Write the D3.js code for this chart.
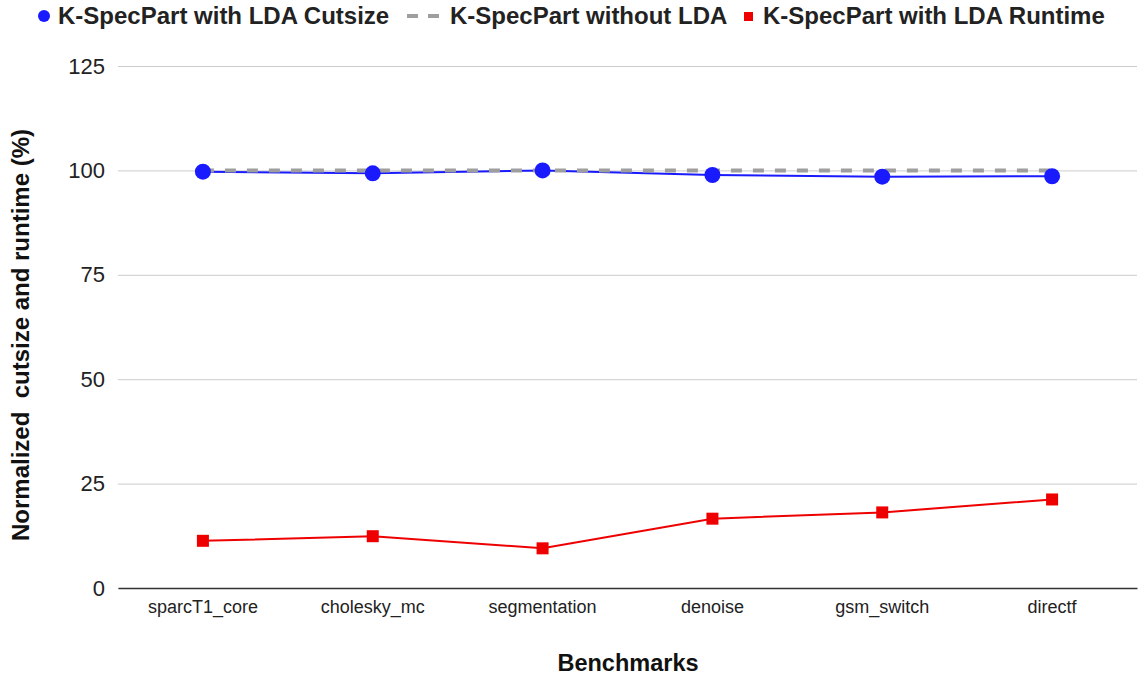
<!DOCTYPE html>
<html>
<head>
<meta charset="utf-8">
<script src="https://cdn.jsdelivr.net/npm/d3@7"></script>
<style>
  body { margin: 0; background: #fff; }
  svg text { font-family: Arial, "Liberation Sans", sans-serif; }
</style>
</head>
<body>
<div id="canvas"></div>
<script>
"use strict"

// data
let benchmarks = ["sparcT1_core", "cholesky_mc", "segmentation", "denoise", "gsm_switch", "directf"];
let cutsizeLDA = [99.7, 99.3, 100, 98.9, 98.5, 98.6];
let withoutLDA = [100, 100, 100, 100, 100, 100];
let runtimeLDA = [11.3, 12.4, 9.5, 16.6, 18.1, 21.2];
let yTicks = [0, 25, 50, 75, 100, 125];

let drawing = d3.select("#canvas")
    .append("svg")
    .attr("width", 1144)
    .attr("height", 677);

let plotLeft = 118, plotRight = 1137, plotTop = 66, plotBottom = 588;

let x = d3.scaleBand().domain(benchmarks).range([plotLeft, plotRight]);
let y = d3.scaleLinear().domain([0, 125]).range([plotBottom, plotTop]);
let cx = d => x(d) + x.bandwidth() / 2;

/* grid lines + y labels */
let yAxis = drawing.append("g")
    .attr("transform", "translate(" + plotLeft + ",0)")
    .call(d3.axisLeft(y).tickValues(yTicks).tickSize(-(plotRight - plotLeft)).tickPadding(13));
yAxis.select(".domain").remove();
yAxis.selectAll("line").attr("stroke", "#cccccc").attr("stroke-width", 1);
yAxis.selectAll("text")
    .attr("fill", "#222")
    .style("font-size", "22px");

/* x axis */
let xAxis = drawing.append("g")
    .attr("transform", "translate(0," + plotBottom + ")")
    .call(d3.axisBottom(x).tickSize(0).tickPadding(12));
xAxis.select(".domain").attr("stroke", "#333").attr("stroke-width", 1.5);
xAxis.selectAll("text")
    .attr("fill", "#222")
    .style("font-size", "18px");

/* axis titles */
drawing.append("text")
    .attr("x", 628)
    .attr("y", 671)
    .attr("text-anchor", "middle")
    .style("font-size", "23.5px")
    .style("font-weight", "bold")
    .attr("fill", "#111")
    .text("Benchmarks");

drawing.append("text")
    .attr("transform", "translate(29,335) rotate(-90)")
    .attr("text-anchor", "middle")
    .style("font-size", "24px")
    .style("font-weight", "bold")
    .attr("fill", "#111")
    .style("white-space", "pre")
    .text("Normalized  cutsize and runtime (%)");

let line = d3.line().x((d, i) => cx(benchmarks[i])).y(d => y(d));

/* blue cutsize line */
drawing.append("path")
    .datum(cutsizeLDA)
    .attr("d", line)
    .attr("fill", "none")
    .attr("stroke", "#1a1aff")
    .attr("stroke-width", 2);

/* grey dashed line on top */
drawing.append("path")
    .datum(withoutLDA)
    .attr("d", line)
    .attr("fill", "none")
    .attr("stroke", "#9e9e9e")
    .attr("stroke-width", 4)
    .attr("stroke-dasharray", "11,11");

drawing.selectAll(".dot")
    .data(cutsizeLDA)
    .enter()
    .append("circle")
    .attr("cx", (d, i) => cx(benchmarks[i]))
    .attr("cy", d => y(d))
    .attr("r", 8)
    .attr("fill", "#1a1aff");

/* red runtime line */
drawing.append("path")
    .datum(runtimeLDA)
    .attr("d", line)
    .attr("fill", "none")
    .attr("stroke", "#ee0000")
    .attr("stroke-width", 2);

drawing.selectAll(".sq")
    .data(runtimeLDA)
    .enter()
    .append("rect")
    .attr("x", (d, i) => cx(benchmarks[i]) - 6)
    .attr("y", d => y(d) - 6)
    .attr("width", 12)
    .attr("height", 12)
    .attr("fill", "#ee0000");

/* legend */
let legend = drawing.append("g");
legend.append("circle").attr("cx", 44).attr("cy", 16).attr("r", 6).attr("fill", "#1a1aff");
legend.append("text").attr("x", 58).attr("y", 24).text("K-SpecPart with LDA Cutsize");
legend.append("line").attr("x1", 407).attr("x2", 440).attr("y1", 16).attr("y2", 16)
    .attr("stroke", "#9e9e9e").attr("stroke-width", 4).attr("stroke-dasharray", "11,10");
legend.append("text").attr("x", 450).attr("y", 24).text("K-SpecPart without LDA");
legend.append("rect").attr("x", 744).attr("y", 12).attr("width", 9).attr("height", 9).attr("fill", "#ee0000");
legend.append("text").attr("x", 763).attr("y", 24).text("K-SpecPart with LDA Runtime");
legend.selectAll("text")
    .style("font-size", "24px")
    .style("font-weight", "bold")
    .attr("fill", "#222");
</script>
</body>
</html>
